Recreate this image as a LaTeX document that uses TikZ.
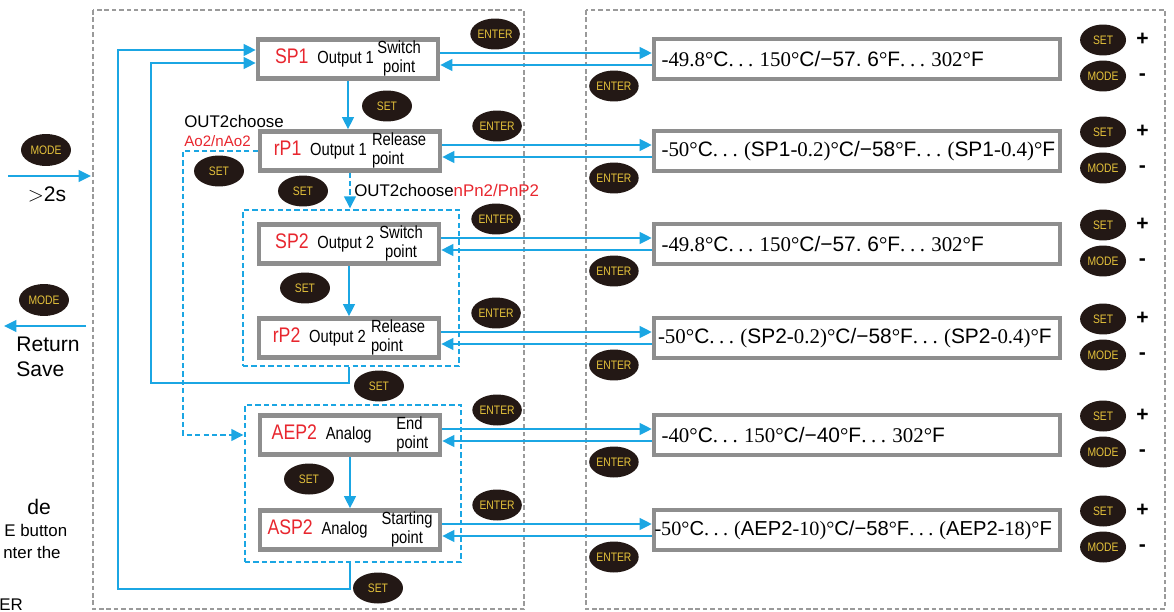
\documentclass[tikz,border=0pt]{standalone}
\usepackage{fontspec}
\setmainfont{Liberation Sans}
\newfontfamily\tms{Liberation Serif}
\newfontfamily\cnd[FakeStretch=0.84]{Liberation Sans}
\usepackage{xcolor}
\usetikzlibrary{shapes.geometric,arrows.meta,positioning,calc,fit}

\definecolor{lineblue}{HTML}{1BA6E3}
\definecolor{boxgray}{HTML}{8E8E8E}
\definecolor{dashgray}{HTML}{9A9A9A}
\definecolor{lblred}{HTML}{E8262E}
\definecolor{btnfill}{HTML}{231815}
\definecolor{btntext}{HTML}{E5C23B}

\tikzset{
  lbox/.style={draw=boxgray, line width=2.4pt, fill=white, minimum width=3.6cm,
    minimum height=0.78cm, inner sep=0pt, font=\cnd\fontsize{10}{10.8}\selectfont},
  vbox/.style={draw=boxgray, line width=2.4pt, fill=white, minimum width=8.12cm,
    minimum height=0.8cm, inner sep=0pt, font=\fontsize{11.9}{13}\selectfont\frenchspacing},
  btn/.style={ellipse, fill=btnfill, text=btntext, minimum width=0.96cm,
    minimum height=0.62cm, inner sep=0pt, font=\cnd\fontsize{7}{7}\selectfont},
  pm/.style={inner sep=0pt, font=\bfseries\fontsize{12}{12}\selectfont},
  bline/.style={draw=lineblue, line width=1.6pt},
  tip/.style={-{Triangle[length=7pt,width=6.5pt]}},
  barrow/.style={bline, tip},
  bdash/.style={bline, dash pattern=on 3pt off 1.8pt},
  grpbox/.style={bdash, inner sep=0pt},
  framebox/.style={draw=dashgray, line width=1.1pt, dash pattern=on 2.6pt off 1.6pt},
  note/.style={inner sep=0pt, font=\fontsize{9.6}{11}\selectfont},
}
\newcommand\lbl[1]{\textcolor{lblred}{\fontsize{12}{12}\selectfont #1}}
\newcommand\twoline[3][c]{\begin{tabular}{@{}#1@{}}#2\\#3\end{tabular}}
\newcommand\sr[1]{{\tms #1}}
\newcommand\dts{{\tms .\hspace{0.22em}.\hspace{0.22em}.\hspace{0.3em}}}
\newcommand\rng[1]{\makebox[7.82cm][l]{#1}}

\begin{document}
\begin{tikzpicture}[x=0.02cm, y=-0.02cm]
  \useasboundingbox (0,0) rectangle (1174,612);
  % 外框
  \draw[framebox] (93,10) rectangle (524,609);
  \draw[framebox] (586,10) rectangle (1165,609);
  % 分组
  \node[grpbox, fit={(243,210) (459,366)}] (g1) {};
  \node[grpbox, fit={(245,405) (461,562)}] (g2) {};
  % 参数
  \node[lbox] (sp1) at (348,59) {\lbl{SP1}\hspace{5pt}Output~1\hspace{2pt}\twoline{Switch}{point}};
  \node[lbox] (rp1) at (350,151) {\lbl{rP1}\hspace{5pt}Output~1\hspace{3pt}\twoline[l]{Release}{point}};
  \node[lbox] (sp2) at (349,244) {\lbl{SP2}\hspace{5pt}Output~2\hspace{3pt}\twoline{Switch}{point}};
  \node[lbox] (rp2) at (349,338) {\lbl{rP2}\hspace{5pt}Output~2\hspace{3pt}\twoline[l]{Release}{point}};
  \node[lbox] (aep2) at (350,435) {\lbl{AEP2}\hspace{5pt}Analog\hspace{14pt}\twoline[l]{End}{point}};
  \node[lbox] (asp2) at (350,530) {\lbl{ASP2}\hspace{5pt}Analog\hspace{8pt}\twoline{Starting}{point}};
  % 范围
  \node[vbox] (v1) at (857,59) {\rng{\sr{-49.8°}C\dts\sr{150°}C/−57. 6\sr{°}F\dts\sr{302°}F}};
  \node[vbox] (v2) at (857,151) {\rng{\sr{-50°}C\dts\sr{(}SP1\sr{-0.2)°}C/−58\sr{°}F\dts\sr{(}SP1\sr{-0.4)°}F}};
  \node[vbox] (v3) at (857,244) {\rng{\sr{-49.8°}C\dts\sr{150°}C/−57. 6\sr{°}F\dts\sr{302°}F}};
  \node[vbox] (v4) at (857,338) {\rng{\hspace{-2pt}\sr{-50°}C\dts\sr{(}SP2\sr{-0.2)°}C/−58\sr{°}F\dts\sr{(}SP2\sr{-0.4)°}F}};
  \node[vbox] (v5) at (857,435) {\rng{\sr{-40°}C\dts\sr{150°}C/−40\sr{°}F\dts\sr{302°}F}};
  \node[vbox, font=\fontsize{11.5}{13}\selectfont\frenchspacing] (v6) at (857,530) {\rng{\hspace{-4pt}\sr{-50°}C\dts\sr{(}AEP2\sr{-10)°}C/−58\sr{°}F\dts\sr{(}AEP2\sr{-18)°}F}};
  % 按键和箭头
  \foreach \n/\k in {sp1/1,rp1/2,sp2/3,rp2/4,aep2/5,asp2/6} {
    \draw[barrow] ([yshift=0.12cm]\n.east) -- ([yshift=0.12cm]v\k.west);
    \draw[barrow] ([yshift=-0.12cm]v\k.west) -- ([yshift=-0.12cm]\n.east);
    \node[btn] (le\k) at ($(\n.east)+(55,-25)$) {ENTER};
    \node[btn] (re\k) at ($(v\k.west)+(-38,27)$) {ENTER};
    \node[btn, minimum width=0.92cm] (st\k) at ($(v\k.east)+(41,-19)$) {SET};
    \node[btn, minimum width=0.92cm] (md\k) at ($(v\k.east)+(41,17)$) {MODE};
    \node[pm] (pl\k) at ($(st\k.east)+(16,-1)$) {+};
    \node[pm] (mi\k) at ($(md\k.east)+(16,1)$) {-};
  }
  % 上下
  \draw[barrow] (sp1.south) -- (sp1.south |- rp1.north);
  \draw[bdash, tip] (rp1.south) -- (rp1.south |- g1.north);
  \draw[barrow] (sp2.south) -- (sp2.south |- rp2.north);
  \draw[barrow] (aep2.south) -- (aep2.south |- asp2.north);
  \coordinate (ao) at (183,435);
  \draw[bdash, tip] (rp1.west) -| (ao) -- (g2.west |- ao);
  % 返回
  \coordinate (ret1) at (151,383);
  \coordinate (ret2) at (118,589);
  \draw[barrow] (sp2.south |- g1.south) |- (ret1) |- ([yshift=-0.08cm]sp1.west);
  \draw[barrow] (aep2.south |- g2.south) |- (ret2) |- ([yshift=0.18cm]sp1.west);
  \node[btn, minimum width=1cm] (s1) at (387,106) {SET};
  \node[btn, minimum width=1cm] (s2) at (219,171) {SET};
  \node[btn, minimum width=1cm] (s3) at (303,191) {SET};
  \node[btn, minimum width=1cm] (s4) at (305,288) {SET};
  \node[btn, minimum width=1cm] (s5) at (379,386) {SET};
  \node[btn, minimum width=1cm] (s6) at (309,479) {SET};
  \node[btn, minimum width=1cm] (s7) at (378,588) {SET};
  % 说明
  \node[note, anchor=west] (oc1) at (184,121) {OUT2choose};
  \node[note, anchor=west, text=lblred, font=\fontsize{8.6}{10}\selectfont] (ao2) at (184,141) {Ao2/nAo2};
  \node[note, anchor=west] (oc2) at (354,190) {OUT2choose\textcolor{lblred}{nPn2/PnP2}};
  % 左侧
  \node[btn, minimum width=1cm, minimum height=0.64cm] (modein) at (46,150) {MODE};
  \coordinate (inl) at (8,176);
  \coordinate (inr) at (91,176);
  \draw[barrow] (inl) -- (inr);
  \node[inner sep=0pt, font=\fontsize{12}{14}\selectfont] (hold) at (47,194) {$>$2s};
  \node[btn, minimum width=1cm, minimum height=0.64cm] (modeout) at (44,300) {MODE};
  \coordinate (outr) at (86,326);
  \coordinate (outl) at (4,326);
  \draw[barrow] (outr) -- (outl);
  \node[inner sep=0pt, anchor=west, align=left, font=\fontsize{12}{14}\selectfont] (retsave) at (16,357) {Return\\Save};
  \node[note, anchor=base west, font=\fontsize{12}{14}\selectfont] (fr1) at (27,514) {de};
  \node[note, anchor=base west] (fr2) at (4,536) {E button};
  \node[note, anchor=base west] (fr3) at (3,558) {nter the};
  \node[note, anchor=base west] (fr4) at (-1,610) {ER};
\end{tikzpicture}
\end{document}
